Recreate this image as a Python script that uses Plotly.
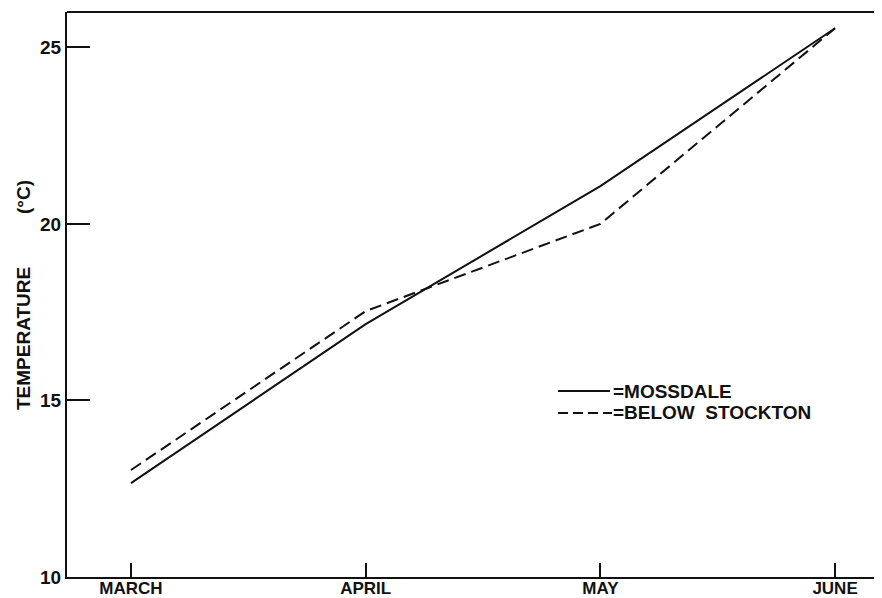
import plotly.graph_objects as go

months = ["MARCH", "APRIL", "MAY", "JUNE"]
mossdale = [12.66, 17.16, 21.07, 25.54]
below_stockton = [13.03, 17.53, 20.0, 25.54]
y_ticks = [10, 15, 20, 25]
y_tick_labels = ["10", "15", "20", "25"]

FONT = "Liberation Sans, Arial, sans-serif"
INK = "#111111"

x_idx = list(range(len(months)))

fig = go.Figure()
fig.add_trace(go.Scatter(x=x_idx, y=mossdale, mode="lines", name="MOSSDALE",
                         line=dict(color=INK, width=2)))
fig.add_trace(go.Scatter(x=x_idx, y=below_stockton, mode="lines", name="BELOW STOCKTON",
                         line=dict(color=INK, width=2, dash="12px,6px")))

# page body has an 8px margin; compensate so the plot area sits at (67,12)-(882,577)
OFF = 8
L, T, W, H = 67, 12, 815, 565
FIG_W, FIG_H = 882 - OFF, 598 - OFF

def px(x):
    return (x - L) / W
def py(y):
    return (T + H - y) / H

shapes = [
    dict(type="line", xref="paper", yref="paper", x0=0, x1=1, y0=1, y1=1,
         line=dict(color=INK, width=2)),
    dict(type="line", xref="paper", yref="paper", x0=px(558), x1=px(610),
         y0=py(391), y1=py(391), line=dict(color=INK, width=2)),
    dict(type="line", xref="paper", yref="paper", x0=px(558), x1=px(612),
         y0=py(413), y1=py(413), line=dict(color=INK, width=2, dash="10px,5px")),
]

bold = dict(family=FONT, color=INK, weight="bold")

annotations = [
    dict(text="=MOSSDALE", xref="paper", yref="paper", x=px(611), y=py(391),
         xanchor="left", yanchor="middle", showarrow=False,
         font=dict(size=19, **bold)),
    dict(text="=BELOW  STOCKTON", xref="paper", yref="paper", x=px(611), y=py(413),
         xanchor="left", yanchor="middle", showarrow=False,
         font=dict(size=19, **bold)),
    dict(text="TEMPERATURE", xref="paper", yref="paper", x=px(24), y=py(339),
         xanchor="center", yanchor="middle", textangle=-90, showarrow=False,
         font=dict(size=19, **bold)),
    dict(text="(°C)", xref="paper", yref="paper", x=px(24), y=py(197),
         xanchor="center", yanchor="middle", textangle=-90, showarrow=False,
         font=dict(size=19, **bold)),
]

fig.update_layout(
    width=FIG_W, height=FIG_H,
    margin=dict(l=L - OFF, r=FIG_W - (L - OFF) - W, t=T - OFF,
                b=FIG_H - (T - OFF) - H, autoexpand=False),
    paper_bgcolor="white", plot_bgcolor="white",
    showlegend=False,
    shapes=shapes, annotations=annotations,
    font=dict(family=FONT, color=INK),
)
fig.update_xaxes(
    range=[-0.2727, 3.2], tickvals=x_idx, ticktext=months,
    ticks="inside", ticklen=14, tickwidth=2, tickcolor=INK,
    showline=True, linecolor=INK, linewidth=2, showgrid=False, zeroline=False,
    automargin=False, ticklabelstandoff=-5,
    tickfont=dict(size=17, **bold),
)
fig.update_yaxes(
    range=[10, 26], tickvals=y_ticks, ticktext=y_tick_labels,
    ticks="inside", ticklen=23, tickwidth=2, tickcolor=INK,
    showline=True, linecolor=INK, linewidth=2, showgrid=False, zeroline=False,
    automargin=False,
    tickfont=dict(size=19, **bold),
)

fig.write_html("out.html")
